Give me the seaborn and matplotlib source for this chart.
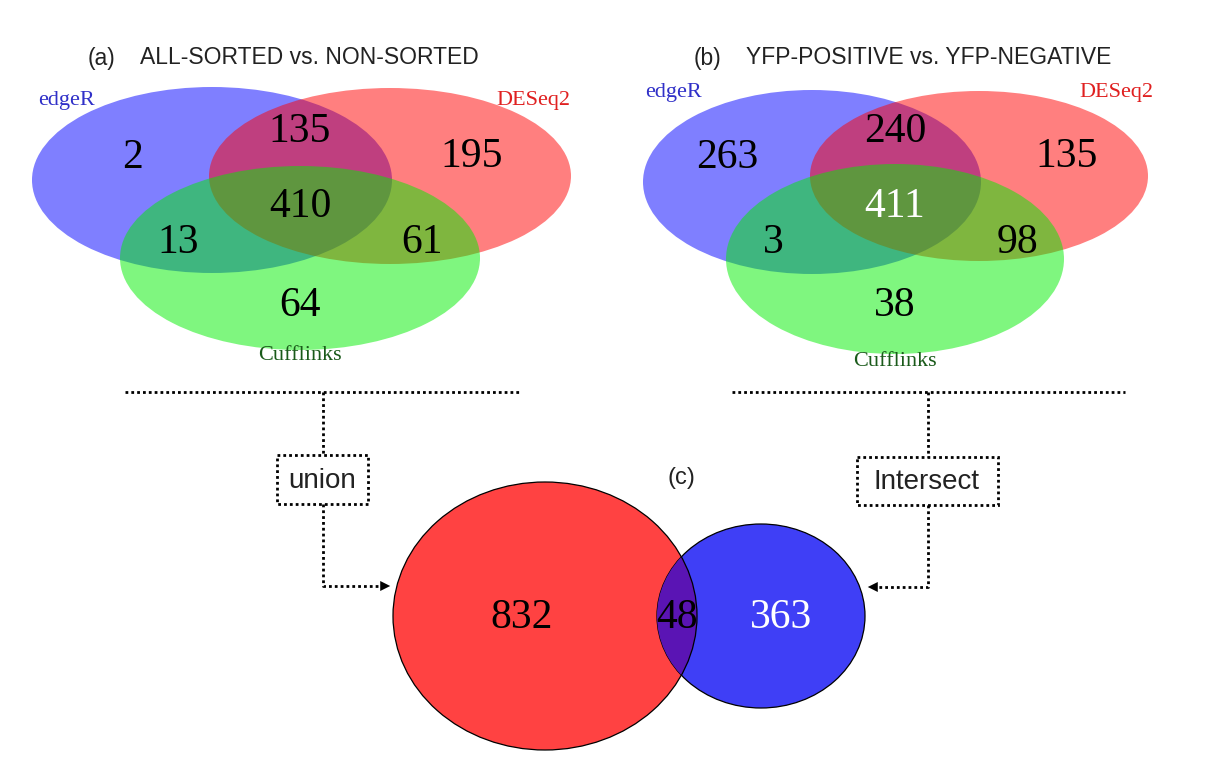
import matplotlib
matplotlib.use("Agg")
import matplotlib.pyplot as plt
from matplotlib.patches import Ellipse, Rectangle, FancyArrowPatch
import seaborn as sns

# ---- data -------------------------------------------------------------
tools = ["edgeR", "DESeq2", "Cufflinks"]
# region order: edgeR only, DESeq2 only, Cufflinks only,
#               edgeR&DESeq2, edgeR&Cufflinks, DESeq2&Cufflinks, all three
counts_a = [2, 195, 64, 135, 13, 61, 410]
counts_b = [263, 135, 38, 240, 3, 98, 411]
title_a = "ALL-SORTED vs. NON-SORTED"
title_b = "YFP-POSITIVE vs. YFP-NEGATIVE"
combo_labels = ["union", "Intersect"]
# union-only, shared, intersect-only
counts_c = [832, 48, 363]

# ---- style ------------------------------------------------------------
sns.set_theme(style="white")
plt.rcParams["font.family"] = ["Liberation Sans", "DejaVu Sans"]
SERIF = "Liberation Serif"

set_colors = ["#0000ff", "#ff0000", "#00ee00"]
label_colors = ["#3030c8", "#e02020", "#1a5a1a"]

fig = plt.figure(figsize=(12.17, 7.74), dpi=100)
ax = fig.add_axes([0, 0, 1, 1])
ax.set_xlim(0, 1217)
ax.set_ylim(774, 0)
ax.axis("off")


def venn3(ax, ox, counts, title, tag, ellipses, label_pos, title_x,
          white_center=False):
    """Three-set Venn diagram with translucent ellipses."""
    for (cx, cy, w, h), col in zip(ellipses, set_colors):
        ax.add_patch(Ellipse((ox + cx, cy), w, h, facecolor=col, alpha=0.5,
                             edgecolor="none"))
    pos = [(-168, 158), (172, 157), (0, 306), (0, 132), (-122, 243),
           (122, 243), (0, 207)]
    for i, ((dx, y), n) in enumerate(zip(pos, counts)):
        col = "white" if (white_center and i == 6) else "black"
        ax.text(ox + dx, y, str(n), ha="center", va="center", fontsize=30,
                family=SERIF, color=col)
    (lx, ly), (rx, ry), (bx, by) = label_pos
    ax.text(ox + lx, ly, tools[0], ha="left", va="center", fontsize=16,
            family=SERIF, color=label_colors[0])
    ax.text(ox + rx, ry, tools[1], ha="right", va="center", fontsize=16,
            family=SERIF, color=label_colors[1])
    ax.text(ox + bx, by, tools[2], ha="center", va="center", fontsize=16,
            family=SERIF, color=label_colors[2])
    ax.text(ox + title_x, 58, f"({tag})", ha="left", va="center",
            fontsize=16.5, color="#222222")
    ax.text(ox + title_x + 52, 58, title, ha="left", va="center",
            fontsize=16.5, color="#222222")


ell_a = [(-88, 180, 360, 186), (90, 176, 362, 176), (0, 258, 360, 184)]
venn3(ax, 300, counts_a, title_a, "a", ell_a,
      [(-262, 100), (270, 100), (0, 355)], -212)
ell_b = [(-83, 182, 338, 184), (84, 176, 338, 170), (0, 259, 338, 190)]
venn3(ax, 895, counts_b, title_b, "b", ell_b,
      [(-250, 92), (258, 92), (0, 362)], -201, white_center=True)

# ---- combining arrows -------------------------------------------------
dot = dict(color="black", lw=2.0, linestyle=(0, (1, 1.1)))
box_style = dict(fill=False, edgecolor="black", lw=2.0,
                 linestyle=(0, (1, 1.1)))
ax.plot([125, 520], [392, 392], **dot)
ax.plot([732, 1125], [392, 392], **dot)

# union branch
ax.plot([323, 323], [392, 455], **dot)
ax.add_patch(Rectangle((277, 455), 91, 49, **box_style))
ax.text(322, 481, combo_labels[0], ha="center", va="center", fontsize=20,
        color="#222222")
ax.plot([323, 323, 382], [504, 586, 586], **dot)
ax.add_patch(FancyArrowPatch((380, 586), (393, 586), arrowstyle="-|>",
                             mutation_scale=18, color="black", lw=0))

# intersect branch
ax.plot([928, 928], [392, 457], **dot)
ax.add_patch(Rectangle((857, 457), 141, 48, **box_style))
ax.text(927, 482, combo_labels[1], ha="center", va="center", fontsize=20,
        color="#222222")
ax.plot([928, 928, 876], [505, 587, 587], **dot)
ax.add_patch(FancyArrowPatch((878, 587), (865, 587), arrowstyle="-|>",
                             mutation_scale=18, color="black", lw=0))

# ---- panel (c): two-set Venn ------------------------------------------
red_c = Ellipse((545, 616), 304, 268, facecolor="#ff4242", edgecolor="black",
                lw=0.9, zorder=3)
blue_c = Ellipse((761, 616), 208, 184, facecolor="#3f3ff6", edgecolor="black",
                 lw=0.9, zorder=4)
ax.add_patch(red_c)
ax.add_patch(blue_c)
lens = Ellipse((545, 616), 304, 268, facecolor="#5a14b4", edgecolor="black",
               lw=0.9, zorder=5)
ax.add_patch(lens)
lens.set_clip_path(blue_c)

ax.text(522, 618, str(counts_c[0]), ha="center", va="center", fontsize=30,
        family=SERIF, color="black", zorder=6)
ax.text(677, 618, str(counts_c[1]), ha="center", va="center", fontsize=30,
        family=SERIF, color="black", zorder=6)
ax.text(781, 618, str(counts_c[2]), ha="center", va="center", fontsize=30,
        family=SERIF, color="white", zorder=6)
ax.text(681, 478, "(c)", ha="center", va="center", fontsize=17,
        color="#222222")

fig.savefig("out.png", dpi=100, facecolor="white")
